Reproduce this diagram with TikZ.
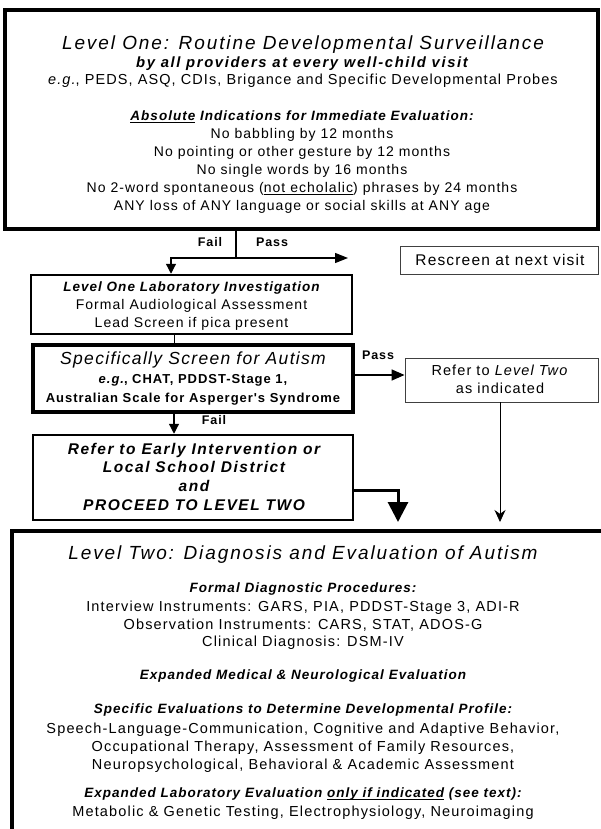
\documentclass[tikz,border=0pt]{standalone}
\usepackage{fontspec}
\setmainfont{Liberation Sans}
\newfontfamily\bodyf[LetterSpace=7.5]{Liberation Sans}
\newfontfamily\botf[LetterSpace=8]{Liberation Sans}
\newfontfamily\midf[LetterSpace=11]{Liberation Sans}
\newfontfamily\widef[LetterSpace=10]{Liberation Sans}
\usetikzlibrary{arrows.meta}
\newcommand\ulx[1]{\underline{\smash{#1}}}
\begin{document}
\begin{tikzpicture}[x=1pt,y=-1pt,
  box/.style={draw=black, rectangle, inner sep=0pt},
  thinbox/.style={draw=black!75, line width=0.9pt, rectangle, inner sep=0pt},
  bodytxt/.style={inner sep=0pt, anchor=base, font=\bodyf\fontsize{14}{16}\selectfont},
  headtxt/.style={inner sep=0pt, anchor=base, font=\bodyf\fontsize{13.5}{16}\selectfont\bfseries\itshape},
  boldtxt/.style={inner sep=0pt, anchor=base, font=\bodyf\fontsize{13}{16}\selectfont\bfseries},
  bottxt/.style={inner sep=0pt, anchor=base, font=\botf\fontsize{14.5}{16}\selectfont},
  subtxt/.style={inner sep=0pt, anchor=base, font=\midf\fontsize{14.8}{16}\selectfont\bfseries\itshape},
  egtxt/.style={inner sep=0pt, anchor=base, font=\bodyf\fontsize{14.5}{16}\selectfont},
  titletxt/.style={inner sep=0pt, anchor=base, font=\widef\fontsize{19}{22}\selectfont\itshape},
  earlytxt/.style={inner sep=0pt, anchor=base, font=\widef\fontsize{15.5}{18}\selectfont\bfseries\itshape},
  labeltxt/.style={inner sep=0pt, anchor=base, font=\bodyf\fontsize{12.5}{14}\selectfont\bfseries},
  conn/.style={draw=black, line width=1.2pt},
]
\useasboundingbox[fill=white] (0,0) rectangle (601,829);

% ---------- boxes ----------
\node[box, line width=4pt, minimum width=593pt, minimum height=219pt] (top) at (301.5,119.5) {};
\node[thinbox, minimum width=198pt, minimum height=28pt] (resc) at (499,260) {};
\node[box, line width=2.5pt, minimum width=321pt, minimum height=59pt] (lab) at (191.5,304.5) {};
\node[box, line width=3.5pt, minimum width=320pt, minimum height=67pt] (scr) at (193,378.5) {};
\node[thinbox, minimum width=193pt, minimum height=44pt] (ref) at (501.5,380) {};
\node[box, line width=2.5pt, minimum width=320pt, minimum height=85pt] (early) at (193,477.5) {};
\node[box, line width=4pt, minimum width=688pt, minimum height=369pt] (bot) at (356,715.5) {};

% ---------- Level One texts ----------
\node[titletxt] (t1) at (303,49.8) {Level One: Routine Developmental Surveillance};
\node[subtxt] (t2) at (302,67.5) {by all providers at every well-child visit};
\node[egtxt] (t3) at (303,84.5) {\textit{e.g.}, PEDS, ASQ, CDIs, Brigance and Specific Developmental Probes};
\node[headtxt] (t4) at (302,121) {\ulx{Absolute} Indications for Immediate Evaluation:};
\node[bodytxt] (t5) at (302,139) {No babbling by 12 months};
\node[bodytxt] (t6) at (302,156.8) {No pointing or other gesture by 12 months};
\node[bodytxt] (t7) at (302,174.6) {No single words by 16 months};
\node[bodytxt] (t8) at (302,192.4) {No 2-word spontaneous (\ulx{not echolalic}) phrases by 24 months};
\node[bodytxt] (t9) at (302,210.2) {ANY loss of ANY language or social skills at ANY age};

% ---------- middle texts ----------
\node[labeltxt] (fail1) at (210,246.5) {Fail};
\node[labeltxt] (pass1) at (272,246.5) {Pass};
\node[inner sep=0pt, anchor=base, font=\bodyf\fontsize{15.5}{18}\selectfont] (rtxt) at (500,265.5) {Rescreen at next visit};
\node[headtxt] (l1) at (191.5,291.8) {Level One Laboratory Investigation};
\node[bodytxt] (l2) at (191.5,309.8) {Formal Audiological Assessment};
\node[bodytxt] (l3) at (191.5,327.8) {Lead Screen if pica present};
\node[inner sep=0pt, anchor=base, font=\bodyf\fontsize{17.5}{20}\selectfont\itshape] (s1) at (193,364.3) {Specifically Screen for Autism};
\node[boldtxt] (s2) at (193,383) {\textit{e.g.}, CHAT, PDDST-Stage 1,};
\node[boldtxt] (s3) at (193,402) {Australian Scale for Asperger's Syndrome};
\node[labeltxt] (pass2) at (378,359.5) {Pass};
\node[bodytxt, font=\bodyf\fontsize{14.5}{16}\selectfont] (r1) at (500,375) {Refer to \textit{Level Two}};
\node[bodytxt, font=\bodyf\fontsize{14.5}{16}\selectfont] (r2) at (500,393) {as indicated};
\node[labeltxt] (fail2) at (214,424.5) {Fail};
\node[earlytxt] (e1) at (194,454.5) {Refer to Early Intervention or};
\node[earlytxt] (e2) at (194,472.5) {Local School District};
\node[earlytxt] (e3) at (194,491.5) {and};
\node[earlytxt] (e4) at (194,510.5) {PROCEED TO LEVEL TWO};

% ---------- Level Two texts ----------
\node[titletxt] (b1) at (303,559.8) {Level Two: Diagnosis and Evaluation of Autism};
\node[headtxt] (b2) at (303,592.8) {Formal Diagnostic Procedures:};
\node[bottxt] (b3) at (303,611) {Interview Instruments: GARS, PIA, PDDST-Stage 3, ADI-R};
\node[bottxt] (b4) at (303,629) {Observation Instruments: CARS, STAT, ADOS-G};
\node[bottxt] (b5) at (303,646) {Clinical Diagnosis: DSM-IV};
\node[headtxt] (b6) at (303,679.8) {Expanded Medical \& Neurological Evaluation};
\node[headtxt] (b7) at (303,713.8) {Specific Evaluations to Determine Developmental Profile:};
\node[bottxt] (b8) at (303,733) {Speech-Language-Communication, Cognitive and Adaptive Behavior,};
\node[bottxt] (b9) at (303,751) {Occupational Therapy, Assessment of Family Resources,};
\node[bottxt] (b10) at (303,769) {Neuropsychological, Behavioral \& Academic Assessment};
\node[headtxt] (b11) at (303,797.8) {Expanded Laboratory Evaluation \ulx{only if indicated} (see text):};
\node[bottxt] (b12) at (303,816) {Metabolic \& Genetic Testing, Electrophysiology, Neuroimaging};

% ---------- connectors ----------
\coordinate (br) at (236,258);
\coordinate (passend) at (348,258);
\coordinate (failx) at (171,258);
\draw[conn] (top.south -| br) -- (br);
\draw[conn, -{Triangle[length=13pt,width=10pt]}] (br) -- (passend);
\draw[conn, -{Triangle[length=10pt,width=10pt]}] (br) -- (failx) -- (lab.north -| failx);
\coordinate (lx) at (174,0);
\draw[conn, line width=0.8pt] (lab.south -| lx) -- (scr.north -| lx);
\coordinate (ry) at (0,375);
\draw[conn, line width=1.5pt, -{Triangle[length=13pt,width=11pt]}] (scr.east |- ry) -- (ref.west |- ry);
\coordinate (fx2) at (174,0);
\draw[conn, -{Triangle[length=10pt,width=10pt]}] (scr.south -| fx2) -- (early.north -| fx2);
\coordinate (ty) at (0,490);
\coordinate (tx) at (398,0);
\draw[conn, line width=3pt, shorten >=7pt, -{Triangle[length=20pt,width=20pt]}] (early.east |- ty) -- (tx |- ty) -- (tx |- bot.north);
\coordinate (rx) at (500,0);
\draw[conn, line width=0.8pt, shorten >=7pt, -{Stealth[length=12pt,width=11pt]}] (ref.south -| rx) -- (bot.north -| rx);
\end{tikzpicture}
\end{document}
